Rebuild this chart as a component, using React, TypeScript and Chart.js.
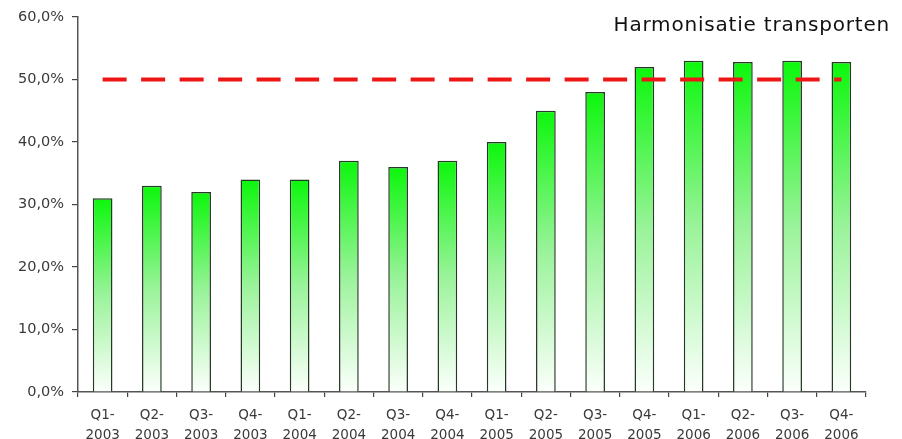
import React, { useEffect, useRef } from 'react';
import { Chart, registerables } from 'chart.js';

Chart.register(...registerables);

// quarters and their share (%)
const quarters = ['Q1', 'Q2', 'Q3', 'Q4', 'Q1', 'Q2', 'Q3', 'Q4', 'Q1', 'Q2', 'Q3', 'Q4', 'Q1', 'Q2', 'Q3', 'Q4'];
const years = ['2003', '2003', '2003', '2003', '2004', '2004', '2004', '2004', '2005', '2005', '2005', '2005', '2006', '2006', '2006', '2006'];
const share = [31, 33, 32, 34, 34, 37, 36, 37, 40, 45, 48, 52, 53, 52.8, 53, 52.8];
const target = quarters.map(() => 50);
const yTicks = [0, 10, 20, 30, 40, 50, 60];

const chartTitle = 'Harmonisatie transporten';

const titlePlugin = {
  id: 'cornerTitle',
  afterDraw(chart: Chart) {
    const ctx = chart.ctx as any;
    ctx.save();
    ctx.font = '20px "DejaVu Sans"';
    ctx.letterSpacing = '0.8px';
    ctx.fillStyle = '#111';
    ctx.textAlign = 'right';
    ctx.textBaseline = 'alphabetic';
    ctx.fillText(chartTitle, 890, 31);
    ctx.restore();
  },
};

const App: React.FC = () => {
  const chartRef = useRef<HTMLCanvasElement>(null);
  const chartInstance = useRef<Chart | null>(null);

  useEffect(() => {
    if (!chartRef.current) return;
    const ctx = chartRef.current.getContext('2d');
    if (!ctx) return;

    const labels = quarters.map((q, i) => [q + '-', years[i]]);

    chartInstance.current = new Chart(ctx, {
      type: 'bar',
      data: {
        labels: labels,
        datasets: [
          {
            type: 'line',
            label: 'Norm',
            data: target,
            borderColor: '#ee1515',
            borderWidth: 4,
            borderDash: [24, 14.5],
            pointRadius: 0,
            fill: false,
            order: 0,
          } as any,
          {
            type: 'bar',
            label: 'Harmonisatie',
            data: share,
            backgroundColor: (c: any) => {
              const chart = c.chart;
              const { chartArea, scales } = chart;
              if (!chartArea || c.raw == null) return '#22ff22';
              const top = scales.y.getPixelForValue(c.raw);
              const bottom = scales.y.getPixelForValue(0);
              const g = chart.ctx.createLinearGradient(0, top, 0, bottom);
              g.addColorStop(0, '#0cf70c');
              g.addColorStop(0.5, '#9af39a');
              g.addColorStop(1, '#fcfffc');
              return g;
            },
            borderColor: '#263826',
            borderWidth: 1.5,
            barPercentage: 0.4,
            categoryPercentage: 1,
            order: 1,
          },
        ],
      },
      options: {
        animation: false,
        responsive: true,
        maintainAspectRatio: false,
        layout: { padding: { top: 17, right: 36, left: 0, bottom: 0 } },
        plugins: {
          legend: { display: false },
          tooltip: { enabled: false },
          title: { display: false },
        },
        scales: {
          x: {
            offset: true,
            grid: {
              offset: true,
              drawOnChartArea: false,
              drawTicks: true,
              tickLength: 5,
              color: '#444',
              lineWidth: 1.2,
            },
            border: { display: true, color: '#555', width: 1.5 },
            ticks: {
              color: '#3a3a3a',
              font: { family: '"DejaVu Sans"', size: 13.5, lineHeight: 1.45 },
              padding: 9,
              maxRotation: 0,
              autoSkip: false,
            },
            afterFit: (scale: any) => {
              scale.height = 47;
            },
          },
          y: {
            min: 0,
            max: 60,
            afterBuildTicks: (scale: any) => {
              scale.ticks = yTicks.map((v) => ({ value: v }));
            },
            grid: {
              drawOnChartArea: false,
              drawTicks: true,
              tickLength: 6,
              color: '#444',
              lineWidth: 1.2,
            },
            border: { display: true, color: '#555', width: 1.5 },
            ticks: {
              color: '#3a3a3a',
              font: { family: '"DejaVu Sans"', size: 14.5 },
              padding: 8,
              callback: (v: any) => Number(v).toFixed(1).replace('.', ',') + '%',
            },
            afterFit: (scale: any) => {
              scale.width = 78;
            },
          },
        },
      },
      plugins: [titlePlugin],
    });

    return () => {
      if (chartInstance.current) {
        chartInstance.current.destroy();
        chartInstance.current = null;
      }
    };
  }, []);

  return (
    <div style={{ position: 'fixed', left: 0, top: 0, width: 902, height: 439, background: '#fff' }}>
      <canvas ref={chartRef} />
    </div>
  );
};

export default App;
